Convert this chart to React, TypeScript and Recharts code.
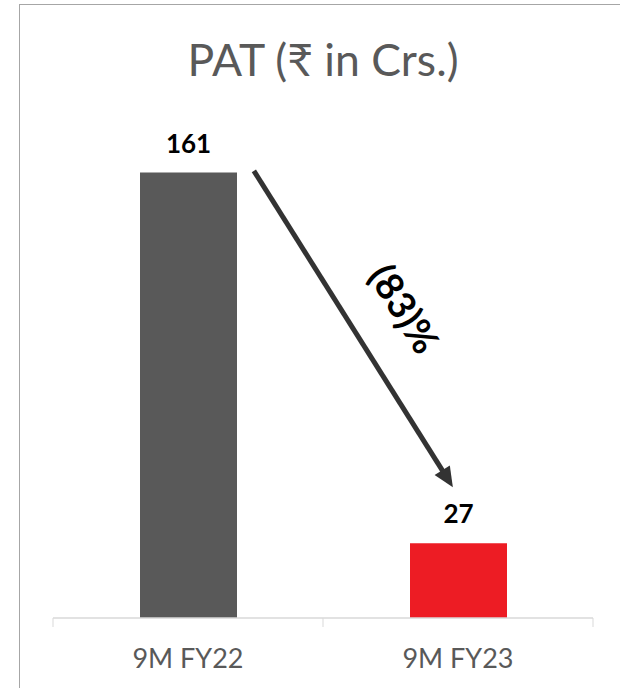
import React from 'react';
import { BarChart, Bar, XAxis, YAxis, Cell, LabelList, ReferenceLine } from 'recharts';

const categories = ['9M FY22', '9M FY23'];
const patValues = [161, 27];
const barColors = ['#595959', '#ED1C24'];
const titleText = 'PAT (₹ in Crs.)';
const changeLabel = '(83)%';
const yDomain = [0, 180];
// arrow runs from just right of the first bar's top down to the second bar's label
const arrowFrom = { x: '9M FY22', y: 161.6 };
const arrowTo = { x: '9M FY23', y: 47.3 };
// fraction of the distance between the two category centres where the arrow starts / ends
const arrowStartFrac = 0.244;
const arrowEndFrac = 0.981;

const data = categories.map((name, i) => ({ name, value: patValues[i] }));

const FONT = 'Lato, "Open Sans", "Noto Sans", sans-serif';

const AxisTick = (props: any) => {
  const { x, y, payload, index, visibleTicksCount, width } = props;
  const half = payload && payload.offset ? payload.offset : width / visibleTicksCount / 2;
  const last = index === visibleTicksCount - 1;
  return (
    <g>
      <line x1={x - half} x2={x - half} y1={y} y2={y + 9} stroke="#D9D9D9" strokeWidth={1} />
      {last && <line x1={x + half} x2={x + half} y1={y} y2={y + 9} stroke="#D9D9D9" strokeWidth={1} />}
      <text x={x} y={y + 50} textAnchor="middle" fill="#595959" fontSize={27} fontFamily={FONT}>
        {payload.value}
      </text>
    </g>
  );
};

const ArrowShape = (props: any) => {
  const cx1 = props.x1;
  const cx2 = props.x2;
  const x1 = cx1 + arrowStartFrac * (cx2 - cx1);
  const x2 = cx1 + arrowEndFrac * (cx2 - cx1);
  const y1 = props.y1;
  const y2 = props.y2;
  const dx = x2 - x1;
  const dy = y2 - y1;
  const len = Math.sqrt(dx * dx + dy * dy);
  const ux = dx / len;
  const uy = dy / len;
  const headLen = 20;
  const headHalf = 9;
  const bx = x2 - ux * headLen;
  const by = y2 - uy * headLen;
  const px = -uy;
  const py = ux;
  const angle = (Math.atan2(dy, dx) * 180) / Math.PI;
  const mx = (x1 + x2) / 2 + ux * 10 + uy * 55;
  const my = (y1 + y2) / 2 + uy * 10 - ux * 55;
  return (
    <g>
      <line x1={x1} y1={y1} x2={bx + ux * 2} y2={by + uy * 2} stroke="#333333" strokeWidth={5} />
      <polygon
        points={`${x2},${y2} ${bx + px * headHalf},${by + py * headHalf} ${bx - px * headHalf},${by - py * headHalf}`}
        fill="#333333"
      />
      <text
        x={mx}
        y={my}
        transform={`rotate(${angle} ${mx} ${my})`}
        textAnchor="middle"
        dominantBaseline="central"
        fontSize={38}
        fontWeight="bold"
        fontFamily={FONT}
        fill="#000000"
      >
        {changeLabel}
      </text>
    </g>
  );
};

export default function App() {
  return (
    <div style={{ position: 'absolute', left: 0, top: 0, width: 620, height: 688, overflow: 'hidden', background: '#fff' }}>
      <div
        style={{
          position: 'absolute',
          left: 19,
          top: 4,
          width: 700,
          height: 800,
          border: '1px solid #A6A6A6',
        }}
      />
      <div
        style={{
          position: 'absolute',
          left: 0,
          top: 33,
          width: 646,
          textAlign: 'center',
          fontFamily: FONT,
          fontSize: 44.5,
          lineHeight: '52px',
          color: '#595959',
          whiteSpace: 'nowrap',
        }}
      >
        {titleText}
      </div>
      <div style={{ position: 'absolute', left: 0, top: 0 }}>
        <BarChart width={620} height={688} data={data} margin={{ top: 120, right: 27, left: 53, bottom: 0 }}>
          <XAxis
            dataKey="name"
            height={70}
            axisLine={{ stroke: '#D9D9D9', strokeWidth: 1.5 }}
            tickLine={false}
            tickSize={0}
            tickMargin={0}
            tick={<AxisTick />}
            interval={0}
          />
          <YAxis hide domain={yDomain} allowDataOverflow />
          <Bar dataKey="value" barSize={97} isAnimationActive={false}>
            {data.map((d, i) => (
              <Cell key={d.name} fill={barColors[i]} />
            ))}
            <LabelList
              dataKey="value"
              position="top"
              offset={20}
              fill="#000000"
              fontSize={26}
              fontWeight="bold"
              fontFamily={FONT}
            />
          </Bar>
          <ReferenceLine
            segment={[arrowFrom, arrowTo]}
            ifOverflow="visible"
            shape={<ArrowShape />}
          />
        </BarChart>
      </div>
    </div>
  );
}
